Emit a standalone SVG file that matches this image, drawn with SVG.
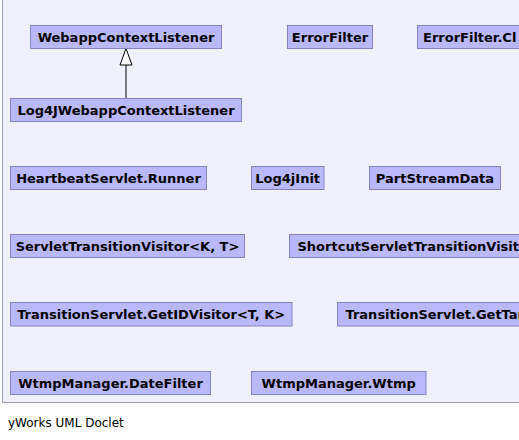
<svg xmlns="http://www.w3.org/2000/svg" width="519" height="440" viewBox="0 0 519 440">
<style>
.n rect{fill:#b9b9f9;stroke:#8484c0;stroke-width:1}
.n text{font-family:"DejaVu Sans",sans-serif;font-weight:bold;font-size:13px;fill:#000;text-anchor:middle}
.n text.l{text-anchor:start}
.e{stroke:#000;stroke-width:1;fill:none}
</style>
<rect x="2.5" y="-10" width="600" height="412.5" fill="#f0f0ff" stroke="#a0a0b4" stroke-width="1"/>
<g id="edges">
<line class="e" x1="126" y1="65" x2="126" y2="98"/>
<polygon points="126,48.5 120,65 132,65" fill="#fff" stroke="#000" stroke-width="1"/>
</g>
<g id="WebappContextListener" class="n"><rect x="30.5" y="25.5" width="191" height="23"/><text x="126" y="41.7">WebappContextListener</text></g>
<g id="ErrorFilter" class="n"><rect x="287.5" y="25.5" width="85" height="23"/><text x="330" y="41.7">ErrorFilter</text></g>
<g id="ErrorFilterCl" class="n"><rect x="417.5" y="25.5" width="200" height="23"/><text class="l" x="423" y="41.7">ErrorFilter.Cl</text></g>
<g id="Log4JWebappContextListener" class="n"><rect x="10.5" y="98.5" width="231" height="23"/><text x="126" y="114.7">Log4JWebappContextListener</text></g>
<g id="HeartbeatServletRunner" class="n"><rect x="10.5" y="166.5" width="196" height="23"/><text x="108.5" y="182.7">HeartbeatServlet.Runner</text></g>
<g id="Log4jInit" class="n"><rect x="251.5" y="166.5" width="72.5" height="23"/><text x="287.7" y="182.7">Log4jInit</text></g>
<g id="PartStreamData" class="n"><rect x="369.5" y="166.5" width="131" height="23"/><text x="435" y="182.7">PartStreamData</text></g>
<g id="ServletTransitionVisitor" class="n"><rect x="10.5" y="234.5" width="234" height="23"/><text x="127.5" y="250.7">ServletTransitionVisitor&lt;K, T&gt;</text></g>
<g id="ShortcutServletTransitionVisitor" class="n"><rect x="289.5" y="234.5" width="300" height="23"/><text class="l" x="297.5" y="250.7">ShortcutServletTransitionVisito</text></g>
<g id="GetIDVisitor" class="n"><rect x="10.5" y="302.5" width="281.5" height="23.5"/><text x="151.2" y="318.9">TransitionServlet.GetIDVisitor&lt;T, K&gt;</text></g>
<g id="GetTar" class="n"><rect x="337.5" y="302.5" width="250" height="23.5"/><text class="l" x="345.5" y="318.9">TransitionServlet.GetTar</text></g>
<g id="DateFilter" class="n"><rect x="10.5" y="371.5" width="200" height="23"/><text x="110.5" y="387.7">WtmpManager.DateFilter</text></g>
<g id="Wtmp" class="n"><rect x="251.5" y="371.5" width="174.5" height="23"/><text x="338.7" y="387.7">WtmpManager.Wtmp</text></g>
<text x="8" y="427" font-family="DejaVu Sans, sans-serif" font-size="12px" fill="#000">yWorks UML Doclet</text>
</svg>
